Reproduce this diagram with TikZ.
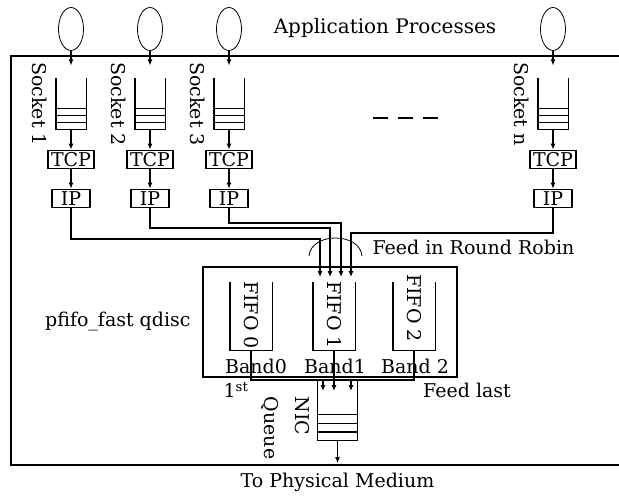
\documentclass[tikz,border=0pt]{standalone}
\usepackage{fontspec}
\setmainfont{DejaVu Serif}
\usetikzlibrary{positioning,arrows.meta,shapes.geometric,calc}
\newcommand{\qslots}[1]{%
  \draw (#1.north west) -- (#1.south west) -- (#1.south east) -- (#1.north east);
  \foreach \f in {0.14,0.28,0.42}
    {\draw ($(#1.south west)!\f!(#1.north west)$) -- ($(#1.south east)!\f!(#1.north east)$);}}

\begin{document}
\begin{tikzpicture}[x=1pt, y=-1pt,
    font=\fontsize{19}{21}\selectfont,
    line width=1.1pt,
    proc/.style={ellipse, draw, line width=0.8pt, minimum width=25pt,
      minimum height=43pt, inner sep=0pt},
    sockq/.style={minimum width=29pt, minimum height=50pt, inner sep=0pt},
    fifoq/.style={minimum width=41pt, minimum height=67pt, inner sep=0pt},
    layer/.style={draw, inner sep=1.5pt, minimum height=18pt},
    vlab/.style={rotate=-90, inner sep=0pt},
    arr/.style={-{Latex[length=6pt, width=5pt]}},
    frame/.style={line width=1.4pt}]

  \useasboundingbox (0,0) rectangle (619,496);

  % application processes and sockets
  \node at (385,28) {\fontsize{20}{22}\selectfont Application Processes};
  \foreach \i/\x in {1/71, 2/150, 3/229, n/553} {
    \node[proc] (p\i) at (\x,29) {};
    \node[sockq] (q\i) at (\x,104) {};
    \node[layer, minimum width=46pt, below=20pt of q\i] (tcp\i) {TCP};
    \node[layer, minimum width=38pt, below=20pt of tcp\i] (ip\i) {IP};
    \node[vlab] at (\x-31,104) {Socket \i};
    \qslots{q\i}
    \draw[arr, shorten >=13pt] (p\i) -- (q\i);
    \draw[arr] (q\i) -- (tcp\i);
    \draw[arr] (tcp\i) -- (ip\i);
  }
  \draw[dash pattern=on 15pt off 10pt] (373,118) -- (438,118);

  % kernel frame
  \draw[frame] (619,56) -- (11,56) -- (11,465) -- (619,465);

  % qdisc
  \node[draw, minimum width=254pt, minimum height=110pt, inner sep=0pt] (qd) at (330,322) {};
  \node[left=8pt of qd] {pfifo\_fast qdisc};
  \foreach \j/\x/\ty/\bx/\b in {0/251/315/256/Band0, 1/334/315/335/Band1, 2/414/308/415/Band 2} {
    \node[fifoq] (f\j) at (\x,316.5) {};
    \draw (f\j.north west) -- (f\j.south west) -- (f\j.south east) -- (f\j.north east);
    \node[vlab] at (\x,\ty) {FIFO \j};
    \node at (\bx,366) {\b};
  }

  % feed in round robin
  \foreach \i/\yb/\xin in {1/239/320, 2/228/330, 3/223/341, n/233/351} {
    \coordinate (in\i) at (\xin,277);
    \draw[arr] (ip\i.south) |- (\xin,\yb) -- (in\i);
  }
  \coordinate (rra) at (309,256);
  \coordinate (rrb) at (362,256);
  \draw[line width=0.8pt] (rra) .. controls (311,232) and (360,232) .. (rrb);
  \node[anchor=west, inner sep=0pt] at (372,247) {Feed in Round Robin};

  % to the NIC queue
  \coordinate (j0) at (323,380);
  \coordinate (j2) at (351,380);
  \coordinate (o0) at (323,391);
  \coordinate (o1) at (334,391);
  \coordinate (o2) at (351,391);
  \draw[arr] (f0.south) |- (j0) -- (o0);
  \draw[arr] (f1.south) -- (o1);
  \draw[arr] (f2.south) |- (j2) -- (o2);
  \draw (j0) -- (j2);
  \node[sockq, minimum width=39pt, minimum height=60pt] (nq) at (337.5,410) {};
  \qslots{nq}
  \node[vlab] at (302,416) {NIC};
  \node[vlab] at (270,428) {Queue};
  \node at (236,390) {1\textsuperscript{st}};
  \node at (467,390) {Feed last};
  \coordinate (phy) at (337.5,463);
  \draw[arr] (nq.south) -- (phy);
  \node at (337.5,482) {To Physical Medium};
\end{tikzpicture}
\end{document}
